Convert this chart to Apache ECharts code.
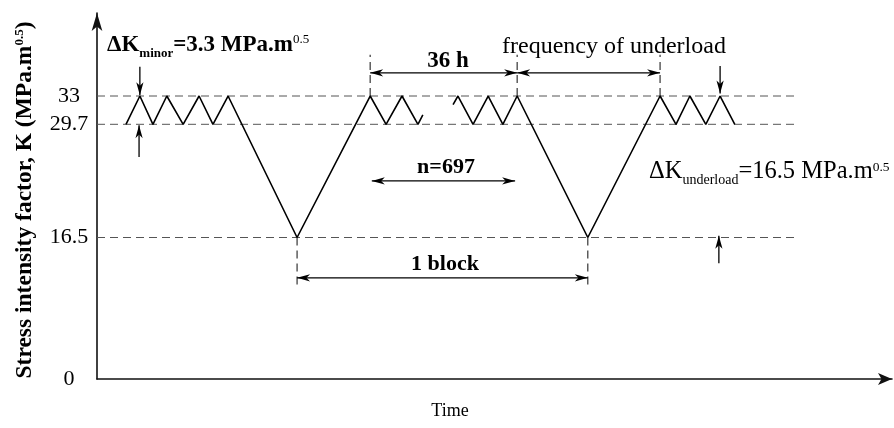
<!DOCTYPE html>
<html>
<head>
<meta charset="utf-8">
<script src="https://cdn.jsdelivr.net/npm/echarts@6/dist/echarts.min.js"></script>
<style>html,body{margin:0;padding:0;background:#fff}#c{width:894px;height:428px}</style>
</head>
<body>
<div id="c"></div>
<script>
// ---- data (time in hours, K in MPa.m^0.5) ----
const yTicks = [0, 16.5, 29.7, 33];
const timeA = [7.1, 10.5, 13.7, 17.1, 21.1, 25.0, 28.4, 32.1, 49.0, 66.9, 70.8, 74.7, 78.6, 79.8];
const kA    = [29.7, 33, 29.7, 33, 29.7, 33, 29.7, 33, 16.5, 33, 29.7, 33, 29.7, 30.8];
const timeB = [87.2, 88.4, 92.1, 95.8, 99.4, 102.9, 120.2, 137.9, 141.8, 145.2, 149.1, 152.6, 156.2];
const kB    = [32.0, 33, 29.7, 33, 29.7, 33, 16.5, 33, 29.7, 33, 29.7, 33, 29.7];
const refLevels = [33, 29.7, 16.5];
const refEnd = 171.7;
const topMarks = [66.9, 102.9, 137.9];     // vertical dashed marks above K=33
const bottomMarks = [49.0, 120.2];         // vertical dashed marks below K=16.5
const topMarkK = 37.8, bottomMarkK = 10.7;
// arrows: [t1, k1, t2, k2, heads(1 = end only, 2 = both)]
const arrows = [
  [66.9, 35.7, 102.9, 35.7, 2],
  [102.9, 35.7, 137.9, 35.7, 2],
  [67.3, 23.1, 102.4, 23.1, 2],
  [49.0, 11.8, 120.2, 11.8, 2],
  [10.5, 36.4, 10.5, 33.1, 1],
  [10.3, 25.9, 10.3, 29.6, 1],
  [152.6, 36.5, 152.6, 33.3, 1],
  [152.3, 13.5, 152.3, 16.7, 1]
];
const xMax = 194.7, yMax = 42.68;

const FF = '"Liberation Serif", "Times New Roman", serif';
const zip = (a, b) => a.map((v, i) => [v, b[i]]);

const series = [];
series.push({type:'line', data: zip(timeA, kA), symbol:'none', lineStyle:{color:'#000', width:1.6}, silent:true, z:3});
series.push({type:'line', data: zip(timeB, kB), symbol:'none', lineStyle:{color:'#000', width:1.6}, silent:true, z:3});
refLevels.forEach(k => series.push({type:'line', data:[[0,k],[refEnd,k]], symbol:'none',
  lineStyle:{color:'#555', width:1, type:[8,5]}, silent:true, z:2}));
topMarks.forEach(t => series.push({type:'line', data:[[t,33],[t,topMarkK]], symbol:'none',
  lineStyle:{color:'#333', width:1.2, type:[8,5]}, silent:true, z:2}));
bottomMarks.forEach(t => series.push({type:'line', data:[[t,16.5],[t,bottomMarkK]], symbol:'none',
  lineStyle:{color:'#333', width:1.2, type:[8,5]}, silent:true, z:2}));

function head(tip, from) {
  const dx = tip[0]-from[0], dy = tip[1]-from[1];
  const len = Math.sqrt(dx*dx+dy*dy) || 1;
  const ux = dx/len, uy = dy/len, nx = -uy, ny = ux;
  const L = 13, W = 3.6;
  const bx = tip[0]-ux*L, by = tip[1]-uy*L;
  const mx = tip[0]-ux*L*0.72, my = tip[1]-uy*L*0.72;
  return {type:'polygon', shape:{points:[[tip[0],tip[1]],[bx+nx*W,by+ny*W],[mx,my],[bx-nx*W,by-ny*W]]},
    style:{fill:'#000'}};
}
series.push({
  type:'custom', data: arrows, silent:true, z:4,
  encode:{x:[0,2], y:[1,3]},
  renderItem(params, api) {
    const p1 = api.coord([api.value(0), api.value(1)]);
    const p2 = api.coord([api.value(2), api.value(3)]);
    const children = [{type:'line', shape:{x1:p1[0],y1:p1[1],x2:p2[0],y2:p2[1]}, style:{stroke:'#000', lineWidth:1.3}}];
    children.push(head(p2, p1));
    if (api.value(4) === 2) children.push(head(p1, p2));
    return {type:'group', children};
  }
});

const chart = echarts.init(document.getElementById('c'), null, {renderer:'canvas'});
chart.setOption({
  backgroundColor:'#fff',
  animation:false,
  grid:{left:97, right:2, top:13, bottom:49, containLabel:false, outerBoundsMode:'none'},
  xAxis:{type:'value', min:0, max:xMax,
    axisLine:{show:true, symbol:['none','arrow'], symbolSize:[9,14], lineStyle:{color:'#111', width:1.6}},
    axisTick:{show:false}, axisLabel:{show:false}, splitLine:{show:false}},
  yAxis:{type:'value', min:0, max:yMax,
    axisLine:{show:true, symbol:['none','arrow'], symbolSize:[8,18], lineStyle:{color:'#111', width:1.6}},
    axisTick:{show:false}, splitLine:{show:false},
    axisLabel:{customValues:yTicks, formatter: v => String(v), color:'#000', fontFamily:FF, fontSize:22, align:'center', margin:28}
  },
  series,
  graphic:[
    {type:'text', x:25, y:200, rotation:Math.PI/2, style:{text:'{m|Stress intensity factor, K (MPa.m}{p|0.5}{m|)}', align:'center', verticalAlign:'middle',
      rich:{m:{fontFamily:FF, fontSize:23.5, fontWeight:'bold', lineHeight:32, verticalAlign:'middle', fill:'#000'},
            p:{fontFamily:FF, fontSize:13, fontWeight:'bold', lineHeight:24, verticalAlign:'top', padding:[4,0,0,0], fill:'#000'}}}},
    {type:'text', x:107, y:45, style:{text:'{m|ΔK}{s|minor}{m|=3.3 MPa.m}{p|0.5}', align:'left', verticalAlign:'middle',
      rich:{m:{fontFamily:FF, fontSize:23, fontWeight:'bold', lineHeight:36, verticalAlign:'middle', fill:'#000'},
            s:{fontFamily:FF, fontSize:13, fontWeight:'bold', lineHeight:14, verticalAlign:'bottom', padding:[0,0,3,0], fill:'#000'},
            p:{fontFamily:FF, fontSize:13, lineHeight:28, verticalAlign:'top', padding:[6,0,0,0], fill:'#000'}}}},
    {type:'text', x:649, y:172, style:{text:'{m|ΔK}{s|underload}{m|=16.5 MPa.m}{p|0.5}', align:'left', verticalAlign:'middle',
      rich:{m:{fontFamily:FF, fontSize:24.5, lineHeight:36, verticalAlign:'middle', fill:'#000'},
            s:{fontFamily:FF, fontSize:14, lineHeight:14, verticalAlign:'bottom', padding:[0,0,3,0], fill:'#000'},
            p:{fontFamily:FF, fontSize:13.5, lineHeight:28, verticalAlign:'top', padding:[6,0,0,0], fill:'#000'}}}},
    {type:'text', x:502, y:46.5, style:{text:'frequency of underload', font:'24px '+FF, fill:'#000', align:'left', verticalAlign:'middle'}},
    {type:'text', x:448, y:61.5, style:{text:'36 h', font:'bold 23px '+FF, fill:'#000', align:'center', verticalAlign:'middle'}},
    {type:'text', x:446, y:167, style:{text:'n=697', font:'bold 22px '+FF, fill:'#000', align:'center', verticalAlign:'middle'}},
    {type:'text', x:445, y:264, style:{text:'1 block', font:'bold 22px '+FF, fill:'#000', align:'center', verticalAlign:'middle'}},
    {type:'text', x:450, y:411, style:{text:'Time', font:'18px '+FF, fill:'#000', align:'center', verticalAlign:'middle'}}
  ]
});
</script>
</body>
</html>
